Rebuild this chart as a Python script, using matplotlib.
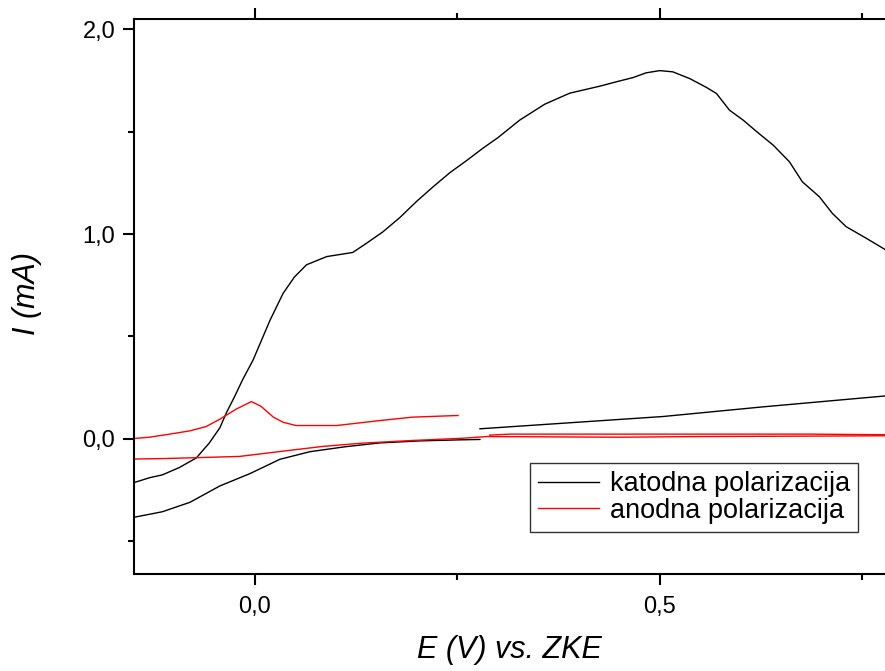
import numpy as np
import matplotlib
matplotlib.use("Agg")
import matplotlib.pyplot as plt
from matplotlib.ticker import MultipleLocator, FuncFormatter

plt.rcParams["font.family"] = "Liberation Sans"

# katodna polarizacija (black) - upper sweep
kat_up_x = [-0.154, -0.13, -0.114, -0.093, -0.072, -0.056, -0.043, -0.035, -0.025,
            -0.015, -0.002, 0.019, 0.035, 0.049, 0.064, 0.089, 0.121, 0.138, 0.158,
            0.179, 0.2, 0.22, 0.241, 0.262, 0.282, 0.30, 0.327, 0.358, 0.389,
            0.426, 0.446, 0.467, 0.483, 0.5, 0.516, 0.537, 0.558, 0.570, 0.586,
            0.603, 0.619, 0.640, 0.660, 0.676, 0.697, 0.713, 0.730, 0.755, 0.78]
kat_up_y = [-0.22, -0.19, -0.176, -0.14, -0.093, -0.02, 0.054, 0.127, 0.205,
            0.288, 0.385, 0.58, 0.71, 0.79, 0.85, 0.89, 0.91, 0.955, 1.01,
            1.08, 1.16, 1.23, 1.30, 1.36, 1.42, 1.47, 1.556, 1.634, 1.688,
            1.722, 1.743, 1.764, 1.787, 1.798, 1.792, 1.759, 1.715, 1.686, 1.605,
            1.556, 1.502, 1.434, 1.353, 1.255, 1.182, 1.101, 1.036, 0.979, 0.92]
# katodna - lower sweep
kat_low_x = [-0.154, -0.114, -0.08, -0.043, -0.006, 0.031, 0.068, 0.111, 0.154,
             0.204, 0.253, 0.278]
kat_low_y = [-0.387, -0.356, -0.31, -0.23, -0.17, -0.10, -0.063, -0.039, -0.02,
             -0.01, -0.005, -0.003]
# katodna - linear tail
kat_tail_x = [0.278, 0.504, 0.627, 0.78]
kat_tail_y = [0.049, 0.109, 0.156, 0.21]

# anodna polarizacija (red) - peak branch
an_up_x = [-0.154, -0.130, -0.105, -0.080, -0.060, -0.043, -0.023, -0.004, 0.008,
           0.023, 0.035, 0.051, 0.101, 0.154, 0.195, 0.251]
an_up_y = [0.0, 0.008, 0.023, 0.039, 0.06, 0.096, 0.145, 0.182, 0.158,
           0.106, 0.081, 0.065, 0.065, 0.089, 0.106, 0.114]
# anodna - lower branch out and back
an_low_x = [-0.154, -0.109, -0.019, 0.031, 0.084, 0.133, 0.195, 0.257, 0.286,
            0.45, 0.545, 0.78]
an_low_y = [-0.099, -0.096, -0.086, -0.062, -0.037, -0.021, -0.008, 0.003, 0.011,
            0.008, 0.011, 0.015]
an_back_x = [0.78, 0.685, 0.549, 0.315, 0.29]
an_back_y = [0.02, 0.023, 0.023, 0.023, 0.018]

fig = plt.figure(figsize=(8.85, 6.71), dpi=100)
ax = fig.add_axes([134 / 885, 97 / 671, 751 / 885, 555 / 671])

ax.plot(kat_up_x, kat_up_y, color="black", lw=1.0, label="katodna polarizacija")
ax.plot(kat_low_x, kat_low_y, color="black", lw=1.0)
ax.plot(kat_tail_x, kat_tail_y, color="black", lw=1.0)
ax.plot(an_up_x, an_up_y, color="#ff0000", lw=1.0, label="anodna polarizacija")
ax.plot(an_low_x, an_low_y, color="#ff0000", lw=1.0)
ax.plot(an_back_x, an_back_y, color="#ff0000", lw=1.0)

ax.set_xlim(-0.149, 0.778)
ax.set_ylim(-0.66, 2.05)

comma = FuncFormatter(lambda v, p: f"{v:.1f}".replace(".", ","))
ax.xaxis.set_major_locator(MultipleLocator(0.5))
ax.xaxis.set_minor_locator(MultipleLocator(0.25))
ax.yaxis.set_major_locator(MultipleLocator(1.0))
ax.yaxis.set_minor_locator(MultipleLocator(0.5))
ax.xaxis.set_major_formatter(comma)
ax.yaxis.set_major_formatter(comma)

for side in ["left", "bottom", "top"]:
    ax.spines[side].set_linewidth(1.5)
ax.spines["right"].set_visible(False)

ax.tick_params(which="both", direction="out", top=True, right=False, width=1.5)
ax.tick_params(which="major", length=8, labelsize=17)
ax.tick_params(which="minor", length=4.5)
ax.tick_params(axis="x", which="major", pad=8)
ax.tick_params(axis="y", which="major", pad=5.5)

ax.set_xlabel("E (V) vs. ZKE", fontsize=22, style="italic")
ax.set_ylabel("I (mA)", fontsize=22, style="italic")
ax.xaxis.set_label_coords(0.5, -0.11)
ax.yaxis.set_label_coords(-0.122, 0.505)

leg = ax.legend(loc="lower right", bbox_to_anchor=((858 - 134) / 751, (574 - 532) / 555),
                fontsize=19.5, frameon=True, fancybox=False, handlelength=2.25,
                handletextpad=0.38, borderpad=0.3, labelspacing=0.02,
                borderaxespad=0)
leg.get_frame().set_edgecolor("black")
leg.get_frame().set_linewidth(1.0)

fig.savefig("out.png", dpi=100)
